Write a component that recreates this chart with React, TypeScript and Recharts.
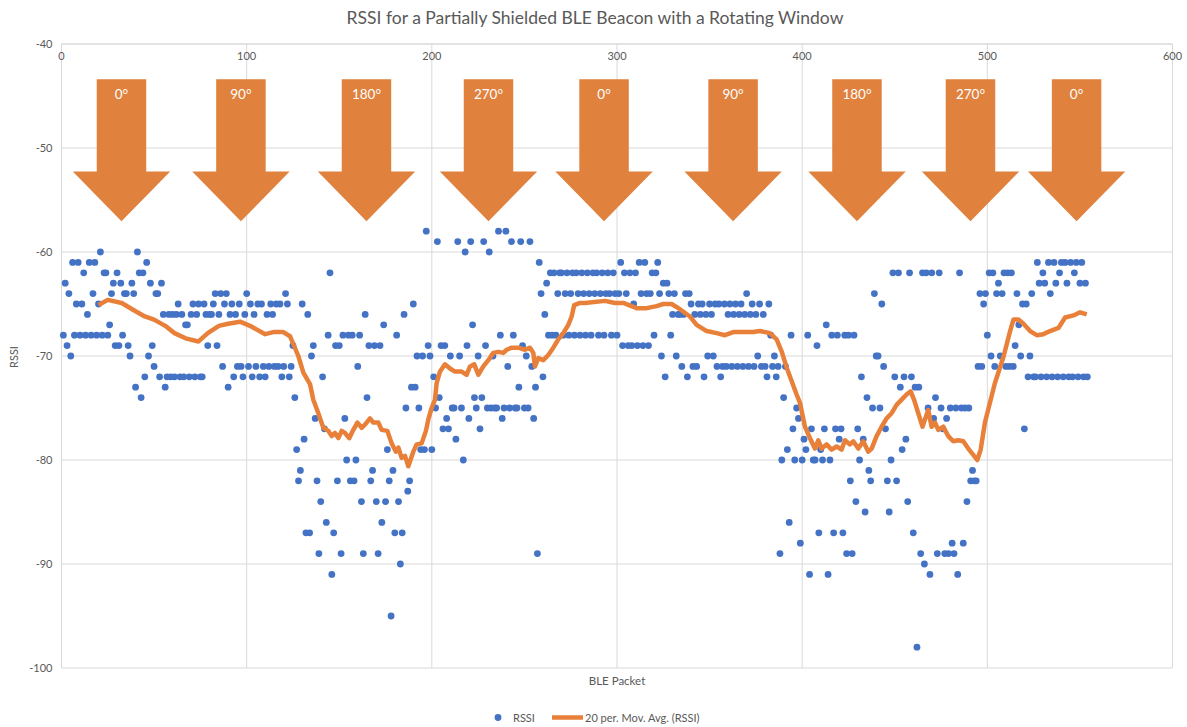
import { ScatterChart, Scatter, XAxis, YAxis, CartesianGrid, ReferenceArea } from 'recharts';

// RSSI per BLE packet (packet 1..554)
const rssi = [
  -68, -63, -69, -64, -70, -61, -68, -65, -61, -68,
  -65, -62, -68, -66, -61, -68, -64, -61, -68, -65,
  -60, -68, -62, -62, -68, -67, -64, -63, -69, -62,
  -69, -63, -68, -64, -64, -69, -70, -63, -64, -73,
  -60, -62, -74, -62, -72, -61, -70, -63, -69, -71,
  -64, -64, -72, -63, -66, -73, -72, -66, -72, -66,
  -72, -66, -65, -72, -66, -72, -67, -67, -72, -66,
  -65, -72, -66, -65, -72, -72, -65, -66, -69, -66,
  -66, -65, -64, -69, -66, -64, -71, -65, -64, -73,
  -66, -65, -72, -66, -71, -65, -71, -72, -66, -64,
  -71, -65, -72, -66, -71, -65, -72, -65, -71, -72,
  -66, -71, -65, -66, -71, -65, -71, -65, -72, -71,
  -64, -65, -72, -71, -69, -74, -79, -82, -81, -65,
  -78, -87, -66, -87, -70, -69, -76, -82, -89, -84,
  -72, -77, -86, -68, -62, -91, -87, -69, -82, -69,
  -89, -68, -76, -80, -68, -82, -68, -82, -80, -71,
  -68, -84, -89, -66, -74, -69, -82, -81, -69, -84,
  -89, -69, -86, -67, -84, -79, -82, -95, -81, -87,
  -68, -84, -90, -87, -66, -75, -83, -82, -73, -65,
  -73, -70, -75, -79, -70, -79, -58, -69, -70, -79,
  -72, -75, -59, -74, -69, -77, -69, -76, -77, -70,
  -75, -75, -78, -59, -70, -75, -80, -60, -69, -76,
  -59, -67, -74, -75, -70, -77, -74, -59, -69, -75,
  -60, -75, -70, -75, -75, -58, -68, -76, -75, -58,
  -71, -75, -59, -68, -75, -75, -73, -59, -69, -75,
  -70, -75, -59, -71, -76, -73, -89, -61, -64, -72,
  -66, -63, -68, -62, -68, -62, -68, -64, -62, -62,
  -68, -64, -62, -68, -64, -62, -68, -62, -64, -68,
  -62, -64, -68, -62, -64, -68, -62, -64, -62, -68,
  -64, -62, -68, -64, -62, -64, -68, -62, -64, -68,
  -64, -61, -69, -62, -64, -69, -62, -69, -65, -62,
  -69, -61, -64, -69, -61, -64, -69, -64, -62, -68,
  -62, -61, -64, -70, -63, -72, -63, -64, -68, -66,
  -64, -70, -66, -66, -71, -66, -64, -72, -64, -65,
  -71, -66, -71, -65, -66, -65, -72, -66, -70, -65,
  -66, -70, -65, -71, -65, -72, -71, -65, -71, -66,
  -65, -71, -66, -65, -71, -66, -65, -71, -66, -64,
  -71, -66, -65, -71, -66, -70, -65, -71, -66, -71,
  -72, -65, -68, -71, -70, -72, -71, -89, -80, -74,
  -71, -79, -86, -68, -77, -80, -75, -76, -88, -80,
  -78, -79, -68, -91, -77, -80, -80, -69, -87, -79,
  -80, -77, -67, -91, -80, -68, -87, -77, -68, -78,
  -77, -87, -68, -89, -68, -82, -89, -68, -84, -77,
  -80, -72, -78, -85, -74, -81, -82, -75, -64, -70,
  -70, -75, -65, -71, -77, -82, -85, -80, -62, -72,
  -82, -62, -73, -79, -72, -78, -84, -62, -72, -87,
  -73, -98, -73, -89, -62, -90, -62, -75, -91, -62,
  -76, -74, -89, -62, -75, -77, -89, -76, -89, -75,
  -88, -89, -75, -91, -62, -75, -88, -75, -84, -75,
  -82, -81, -82, -82, -71, -64, -71, -65, -64, -68,
  -62, -70, -62, -71, -64, -63, -70, -64, -62, -71,
  -62, -71, -62, -71, -69, -64, -67, -70, -65, -77,
  -65, -72, -70, -64, -72, -72, -61, -63, -72, -62,
  -63, -72, -61, -64, -72, -61, -63, -72, -62, -61,
  -72, -61, -63, -72, -61, -72, -62, -61, -72, -63,
  -61, -72, -63, -72,
];

// 20 per. moving average
const maPacket = [
  20, 25, 32.5, 40, 45, 50, 56, 61, 67, 74, 79, 85, 90,
  96.4, 101.8, 110, 114.4, 119.8, 123.4, 127.9, 130.6, 134.2,
  136, 138.7, 141.4, 144.1, 145.9, 147.7, 149.5, 151.3, 153.1, 155.4, 157.6, 159.8,
  162.1, 163.9, 166.6, 168.4, 171.1, 172.9, 176, 178.3, 180.6, 181.9, 183.7, 185.5,
  187.3, 190, 191.8, 194.5, 196.8, 198.1, 199.9, 201.7,
  202.6, 204.4, 207.1, 209.8, 212.5, 216.1, 218.8, 220.6, 222.9, 225.1, 227.8, 230.5,
  233.2, 235.9, 238.6, 240.4, 243.1, 246.7, 250.3, 253, 254.8, 255.7, 257.5, 260.2,
  262.9, 265.6, 268.3, 271, 273.7, 275.5, 276.9, 280, 282.7,
  293.5, 298.9, 303.4, 310.6, 316, 321.4, 325, 329.5, 334, 339.4, 343, 348.4, 353.8,
  358.3, 362.8, 368.2, 373.6, 377.2, 382.6, 386.2, 389, 391.6, 394.3, 397,
  398.8, 401.5, 404.2, 406.9, 408.7, 410.5, 413.2, 415.9, 418.6, 421.3, 423.1, 425.8,
  427.6, 430.3, 433, 435.7, 437.5, 440.2, 442.9, 445.6, 448.3, 451, 453.7, 456.4,
  458.6, 460.4, 462.7, 465, 466.3, 468.1, 469.9, 471.7, 473.5, 476.2, 478.9, 481.6,
  484.3, 487, 489.7, 492.4, 494.6, 496.4, 498.7, 501.4, 504.1,
  508.7, 512.3, 514.1, 516.8, 519.5, 523.1, 526.7, 530.3, 533.9, 538.4, 542, 546.5,
  550.1, 553.7,
];
const maValue = [
  -65.1, -64.6, -64.9, -65.7, -66.2, -66.5, -67.1, -67.8, -68.3, -68.6, -67.8, -67.1, -66.9,
  -66.7, -67.1, -67.9, -67.7, -67.7, -68.1, -70, -71.6, -72.7,
  -74.2, -75.5, -76.9, -77.2, -77.7, -77.4, -77.9, -77.2, -77.4, -77.9, -77.1, -76.4,
  -76.9, -76.6, -76, -76.4, -76.4, -77.1, -77.2, -78.4, -79.2, -78.8, -79.8, -79.6,
  -80.6, -79.2, -78.5, -78.4, -77.2, -76.1, -75, -74.2,
  -72.6, -71.5, -70.8, -71.2, -71.5, -71.5, -71.8, -71, -70.8, -71.8, -71, -70.4,
  -69.7, -69.6, -69.7, -69.4, -69.2, -69.2, -69.4, -69.2, -69.7, -71, -70.2, -70.4,
  -69.9, -69.2, -68.4, -67.8, -67, -66.2, -65.1, -64.9, -64.9,
  -64.7, -64.9, -64.9, -65.4, -65.4, -65.2, -65, -65, -65.5, -66.2, -67, -67.6, -67.8,
  -68, -67.7, -67.7, -67.7, -67.6, -67.8, -68.4, -69.6, -71.1, -72.4, -73.7,
  -74.5, -76.8, -77.9, -78.9, -78.1, -78.9, -78.5, -79, -78.7, -79, -78.1, -78.5,
  -78.2, -78.9, -78.2, -79.2, -78.9, -77.7, -76.8, -76, -75.5, -74.7, -74.2, -73.7,
  -73.4, -74.2, -75.5, -76.8, -76.1, -75.2, -76.8, -76.4, -77.1, -76.8, -77.7, -78.2,
  -78.1, -78.2, -78.9, -79.5, -80, -79, -76.4, -74.5, -72.6,
  -70.1, -67.6, -66.5, -66.5, -66.9, -67.6, -68, -67.9, -67.6, -67.3, -66.3, -66.1,
  -65.8, -66,
];

// window orientation markers (centre packet of each arrow)
const arrowPacket = [32.4, 96.9, 164.7, 230.6, 293.0, 362.7, 429.6, 490.9, 548.2];
const arrowLabels = ['0°', '90°', '180°', '270°', '0°', '90°', '180°', '270°', '0°'];

const xTicks = [0, 100, 200, 300, 400, 500, 600];
const yTicks = [-100, -90, -80, -70, -60, -50, -40];

const points = rssi.map((v, i) => ({ packet: i + 1, rssi: v }));
const avg = maPacket.map((p, i) => ({ packet: p, rssi: maValue[i] }));

const BLUE = '#4472C4';
const ORANGE = '#E8803A';
const ARROW = '#E0813D';
const GREY = '#595959';
const FONT = 'Lato, "Open Sans", sans-serif';

const Dot = (props: any) => <circle cx={props.cx} cy={props.cy} r={3.4} fill={BLUE} />;
const NoDot = () => <g />;

const arrowShape = (label: string) => (props: any) => {
  const { x, y, width, height } = props;
  const cx = x + width / 2;
  const shaft = width * 0.254;
  const neck = y + height * 0.649;
  const pts = [
    [cx - shaft, y], [cx + shaft, y], [cx + shaft, neck], [x + width, neck],
    [cx, y + height], [x, neck], [cx - shaft, neck],
  ].map(p => p.join(',')).join(' ');
  return (
    <g>
      <polygon points={pts} fill={ARROW} />
      <text x={cx} y={y + 20} textAnchor="middle" fill="#fff" fontSize={13.5} fontFamily={FONT}>{label}</text>
    </g>
  );
};

export default function App() {
  return (
    <div style={{ position: 'absolute', left: 0, top: 0, width: 1187, height: 727, background: '#fff' }}>
      <ScatterChart width={1187} height={727} margin={{ top: 44, right: 14.5, bottom: 59, left: 11.5 }}>
        <CartesianGrid stroke="#D9D9D9" />
        <XAxis
          type="number"
          dataKey="packet"
          orientation="top"
          mirror
          domain={[0, 600]}
          ticks={xTicks}
          axisLine={{ stroke: '#D9D9D9' }}
          tickLine={false}
          tickSize={0}
          tickMargin={8}
          tick={{ fill: GREY, fontSize: 11, fontFamily: FONT }}
        />
        <YAxis
          type="number"
          dataKey="rssi"
          domain={[-100, -40]}
          ticks={yTicks}
          width={50}
          axisLine={false}
          tickLine={false}
          tickSize={0}
          tickMargin={9}
          tick={{ fill: GREY, fontSize: 11, fontFamily: FONT }}
        />
        {arrowPacket.map((c, i) => (
          <ReferenceArea
            key={i}
            x1={c - 26.3}
            x2={c + 26.3}
            y1={-57.05}
            y2={-43.4}
            shape={arrowShape(arrowLabels[i])}
          />
        ))}
        <Scatter name="RSSI" data={points} fill={BLUE} shape={Dot} isAnimationActive={false} />
        <Scatter
          name="20 per. Mov. Avg. (RSSI)"
          data={avg}
          fill={ORANGE}
          shape={NoDot}
          line={{ stroke: ORANGE, strokeWidth: 4.5, strokeLinejoin: 'round' }}
          lineJointType="linear"
          isAnimationActive={false}
        />
      </ScatterChart>
      <svg width={1187} height={727} style={{ position: 'absolute', left: 0, top: 0, pointerEvents: 'none' }}>
        <text x={595} y={24} textAnchor="middle" fill={GREY} fontSize={17.5} fontFamily={FONT}>
          RSSI for a Partially Shielded BLE Beacon with a Rotating Window
        </text>
        <text x={18} y={357} textAnchor="middle" fill={GREY} fontSize={11} fontFamily={FONT} transform="rotate(-90 18 357)">
          RSSI
        </text>
        <text x={617} y={685} textAnchor="middle" fill={GREY} fontSize={11.5} fontFamily={FONT}>
          BLE Packet
        </text>
        <circle cx={498} cy={717.5} r={3.4} fill={BLUE} />
        <text x={513} y={721.5} fill={GREY} fontSize={11} fontFamily={FONT}>RSSI</text>
        <line x1={552} y1={717.5} x2={583} y2={717.5} stroke={ORANGE} strokeWidth={4.5} />
        <text x={585} y={721.5} fill={GREY} fontSize={11} fontFamily={FONT}>20 per. Mov. Avg. (RSSI)</text>
      </svg>
    </div>
  );
}
